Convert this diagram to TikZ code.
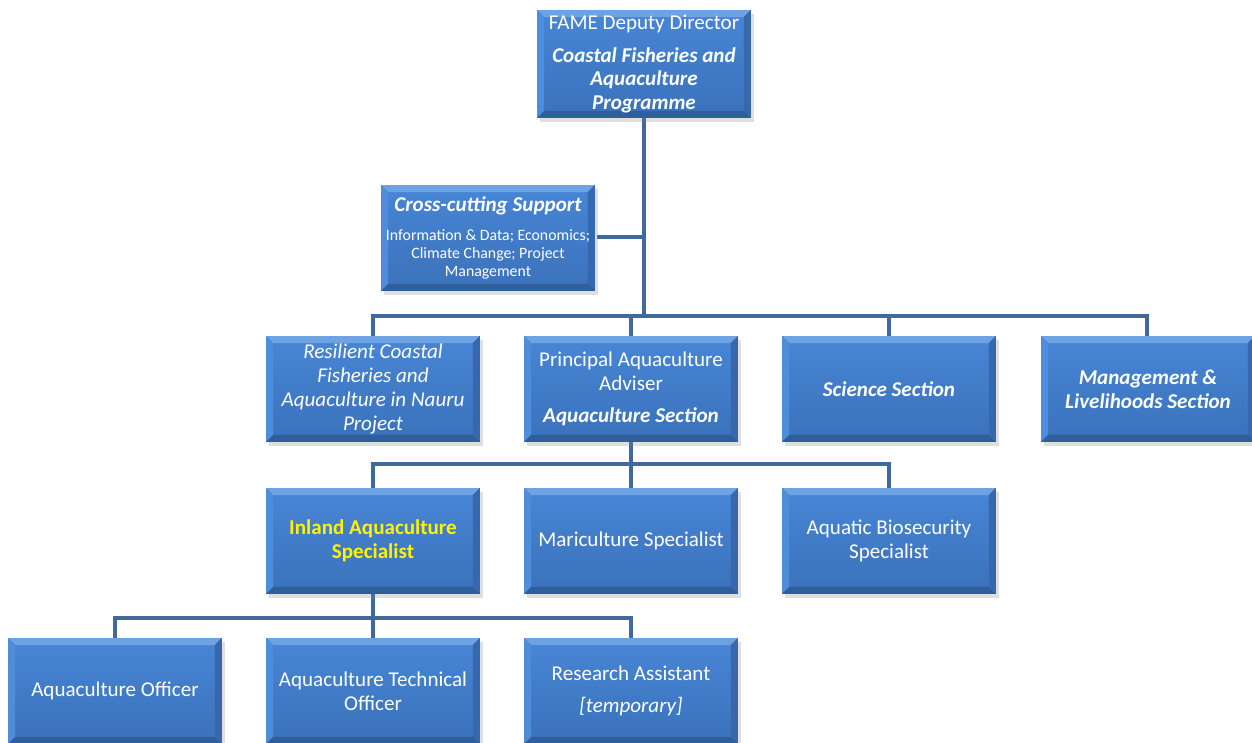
\documentclass[tikz,border=0pt]{standalone}
\usepackage{fontspec}
\setmainfont{Carlito}
\usetikzlibrary{shadows}

\definecolor{boxtop}{HTML}{4886D6}
\definecolor{boxbot}{HTML}{3A71BA}
\definecolor{bevlight}{HTML}{6FA2E3}
\definecolor{bevleft}{HTML}{4F8DDA}
\definecolor{bevright}{HTML}{3768AE}
\definecolor{bevdark}{HTML}{2F5E9D}
\definecolor{linkblue}{HTML}{41699E}

\tikzset{
	orgbox/.style={minimum width=4.28cm, minimum height=2.12cm, inner sep=2pt,
		align=center, text=white, font=\fontsize{12}{13.5}\selectfont,
		top color=boxtop, bottom color=boxbot,
		drop shadow={opacity=0.25, shadow xshift=1.5pt, shadow yshift=-2pt},
		path picture={
			\fill[bevlight] (path picture bounding box.north west) -- (path picture bounding box.north east)
				-- ([xshift=-0.14cm,yshift=-0.14cm]path picture bounding box.north east)
				-- ([xshift=0.14cm,yshift=-0.14cm]path picture bounding box.north west) -- cycle;
			\fill[bevleft] (path picture bounding box.north west) -- (path picture bounding box.south west)
				-- ([xshift=0.14cm,yshift=0.14cm]path picture bounding box.south west)
				-- ([xshift=0.14cm,yshift=-0.14cm]path picture bounding box.north west) -- cycle;
			\fill[bevright] (path picture bounding box.north east) -- (path picture bounding box.south east)
				-- ([xshift=-0.14cm,yshift=0.14cm]path picture bounding box.south east)
				-- ([xshift=-0.14cm,yshift=-0.14cm]path picture bounding box.north east) -- cycle;
			\fill[bevdark] (path picture bounding box.south west) -- (path picture bounding box.south east)
				-- ([xshift=-0.14cm,yshift=0.14cm]path picture bounding box.south east)
				-- ([xshift=0.14cm,yshift=0.14cm]path picture bounding box.south west) -- cycle;
		}},
	link/.style={draw=linkblue, line width=2.8pt}
}

\begin{document}
\begin{tikzpicture}[x=0.02cm, y=-0.02cm]
	\useasboundingbox (0,0) rectangle (1252,743);

	% junction points of the tree
	\coordinate (bar1) at (644,316);
	\coordinate (bar2) at (631,464);
	\coordinate (bar3) at (373,618);

	% connectors first, boxes on top
	\draw[link] (644,118) -- (bar1);
	\draw[link] (373,336) |- (bar1) -| (1147,336);
	\draw[link] (631,336) -- (631,316);
	\draw[link] (889,336) -- (889,316);
	\draw[link] (631,442) -- (bar2);
	\draw[link] (373,488) |- (bar2) -| (889,488);
	\draw[link] (631,488) -- (bar2);
	\draw[link] (373,594) -- (bar3);
	\draw[link] (115,638) |- (bar3) -| (631,638);
	\draw[link] (373,638) -- (bar3);
	\draw[link] (597,237) -- (644,237);

	% top
	\node[orgbox, minimum height=2.16cm] (fame) at (644,64)
		{FAME Deputy Director\\[5pt]\bfseries\itshape Coastal Fisheries and\\\bfseries\itshape Aquaculture\\\bfseries\itshape Programme};
	\node[orgbox, font=\fontsize{9}{10}\selectfont] (cross) at (488,238)
		{\fontsize{12}{13.5}\selectfont\bfseries\itshape Cross-cutting Support\\[6.5pt]
		Information \& Data; Economics;\\Climate Change; Project\\Management};

	% sections
	\node[orgbox] (resil) at (373,389)
		{\itshape Resilient Coastal\\\itshape Fisheries and\\\itshape Aquaculture in Nauru\\\itshape Project};
	\node[orgbox] (aqsec) at (631,389)
		{Principal Aquaculture\\Adviser\\[5pt]\bfseries\itshape Aquaculture Section};
	\node[orgbox] (sci) at (889,389) {\bfseries\itshape Science Section};
	\node[orgbox] (mgmt) at (1148,389)
		{\bfseries\itshape Management \&\\\bfseries\itshape Livelihoods Section};

	% specialists
	\node[orgbox] (inland) at (373,541)
		{\color{yellow}\bfseries Inland Aquaculture\\\color{yellow}\bfseries Specialist};
	\node[orgbox] (mari) at (631,541) {Mariculture Specialist};
	\node[orgbox] (biosec) at (889,541) {Aquatic Biosecurity\\Specialist};

	% officers
	\node[orgbox] (officer) at (115,691) {Aquaculture Officer};
	\node[orgbox] (tech) at (373,691) {Aquaculture Technical\\Officer};
	\node[orgbox] (research) at (631,691)
		{Research Assistant\\[5pt]\itshape [temporary]};
\end{tikzpicture}
\end{document}
